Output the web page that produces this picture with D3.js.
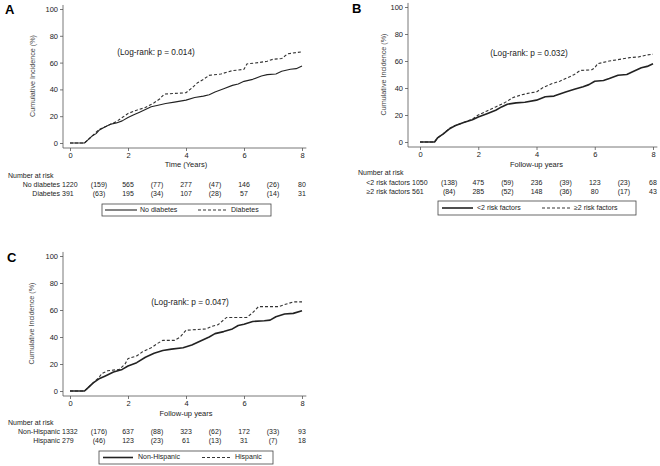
<!DOCTYPE html>
<html lang="en">
<head>
<meta charset="UTF-8">
<title>cumulative incidence</title>
<script src="https://cdn.jsdelivr.net/npm/d3@7"></script>
<style>
  * { margin: 0; padding: 0; }
  body { background: #fff; }
  svg { display: block; font-family: "Liberation Sans", Arial, sans-serif; }
</style>
</head>
<body>
<script>
// ---- data ----
const yearTicks = [0, 2, 4, 6, 8];
const yTicks = [0, 20, 40, 60, 80, 100];
const riskCols = [0, 1, 2, 3, 4, 5, 6, 7, 8];

// panel A
const noDiabetes = [[0,0],[0.5,0],[0.6,2],[0.75,5],[0.9,7],[1,9.5],[1.2,12],[1.4,14],[1.6,15],[1.8,16.5],[2,19],[2.2,21],[2.4,23],[2.6,25],[2.8,27],[3,28],[3.3,29.5],[3.6,30.5],[4,32],[4.3,34],[4.6,35],[4.8,36],[5,38],[5.3,40.5],[5.6,43],[5.8,44],[6,46],[6.3,47.5],[6.6,50],[6.8,51],[7.1,51.5],[7.3,53.5],[7.6,55],[7.8,55.5],[8,57.5]];
const diabetes = [[0,0],[0.5,0],[0.6,2],[0.75,5],[1,10],[1.3,13],[1.6,16],[1.8,19],[2,22],[2.3,24.5],[2.6,26.5],[2.9,30],[3.1,33],[3.25,36.5],[3.6,37],[4,37.5],[4.2,41],[4.4,45],[4.6,47.5],[4.8,50.5],[5.2,51.5],[5.6,54],[6,55],[6.1,59],[6.5,60],[6.8,61],[7,62.5],[7.3,63],[7.5,66.5],[7.8,67.5],[8,68]];
const riskA1 = ["1220","(159)","565","(77)","277","(47)","146","(26)","80"];
const riskA2 = ["391","(63)","195","(34)","107","(28)","57","(14)","31"];

// panel B
const lowRisk = [[0,0],[0.5,0],[0.6,3],[0.8,6],[1,9.5],[1.2,12],[1.5,14.5],[1.8,16.5],[2,18.5],[2.3,21],[2.6,23.5],[2.8,26],[3,28],[3.3,29],[3.6,29.5],[4,31],[4.3,33.5],[4.6,34],[4.8,35.5],[5,37],[5.3,39],[5.6,41],[5.8,42.5],[6,45],[6.3,45.5],[6.5,47],[6.8,49.5],[7.1,50],[7.3,52],[7.6,55],[7.8,56],[8,58]];
const highRisk = [[0,0],[0.5,0],[0.6,3],[0.8,6],[1,10],[1.2,12],[1.5,14.5],[1.8,17],[2,20],[2.3,23],[2.6,26],[2.9,29],[3.2,33],[3.5,35],[3.8,36.5],[4,37],[4.2,40],[4.5,43],[4.8,45],[5,47],[5.3,50],[5.5,53],[5.9,53.5],[6,55],[6.1,58],[6.5,60],[6.8,61],[7.2,62.5],[7.5,63],[7.8,64.5],[8,65]];
const riskB1 = ["1050","(138)","475","(59)","236","(39)","123","(23)","68"];
const riskB2 = ["561","(84)","285","(52)","148","(36)","80","(17)","43"];

// panel C
const nonHispanic = [[0,0],[0.5,0],[0.6,2],[0.8,6],[1,9],[1.2,11],[1.5,14],[1.8,16],[2,18.5],[2.3,21],[2.6,25],[2.9,28],[3.2,30],[3.5,31],[3.9,32],[4.2,34],[4.5,37],[4.8,40],[5,42.5],[5.3,44],[5.6,46],[5.8,48.5],[6,49.5],[6.3,51.5],[6.7,52],[6.9,52.5],[7.1,55],[7.4,57],[7.7,57.5],[8,59.5]];
const hispanic = [[0,0],[0.5,0],[0.6,2],[0.8,6],[1,10],[1.1,13],[1.3,15],[1.7,16],[1.9,20],[2,24],[2.3,26],[2.5,29],[2.8,32],[3,35],[3.2,37.5],[3.6,37.5],[3.8,40],[4,45],[4.7,46],[4.9,48],[5.1,49],[5.4,54.5],[6.1,54.5],[6.3,58],[6.5,62.5],[7.2,62.5],[7.4,64],[7.7,66],[8,66]];
const riskC1 = ["1332","(176)","637","(88)","323","(62)","172","(33)","93"];
const riskC2 = ["279","(46)","123","(23)","61","(13)","31","(7)","18"];

const panels = [
  { letter: "A", lx: 5, ly: 14, axisX: 63, x0: 70, x1: 302, yTop: 9, yBot: 143, xAxisY: 148,
    title: "Time (Years)", titleY: 165, lrX: 156, lrY: 53, pval: "(Log-rank: p = 0.014)",
    ytX: 35, narX: 8, narY: 176, rowY: [185, 194], labRight: 60,
    names: ["No diabetes", "Diabetes"], series: [noDiabetes, diabetes], risk: [riskA1, riskA2],
    solidW: 1.1, legend: { x: 102, y: 204, w: 169, h: 12, s0: 105, s1: 137, t0: 140, d0: 198, d1: 228, t1: 231 } },
  { letter: "B", lx: 352, ly: 13, axisX: 408, x0: 420, x1: 653, yTop: 7, yBot: 142, xAxisY: 147,
    title: "Follow-up years", titleY: 165, lrX: 529, lrY: 54, pval: "(Log-rank: p = 0.032)",
    ytX: 386, narX: 358, narY: 173, rowY: [183, 192], labRight: 410,
    names: ["<2 risk factors", "\u22652 risk factors"], series: [lowRisk, highRisk], risk: [riskB1, riskB2],
    solidW: 1.6, legend: { x: 438, y: 201, w: 198, h: 14, s0: 442, s1: 473, t0: 477, d0: 542, d1: 570, t1: 574 } },
  { letter: "C", lx: 7, ly: 262, axisX: 63, x0: 70, x1: 302, yTop: 256, yBot: 391, xAxisY: 396,
    title: "Follow-up years", titleY: 414, lrX: 190, lrY: 303, pval: "(Log-rank: p = 0.047)",
    ytX: 34, narX: 8, narY: 423, rowY: [432, 441], labRight: 60,
    names: ["Non-Hispanic", "Hispanic"], series: [nonHispanic, hispanic], risk: [riskC1, riskC2],
    solidW: 1.6, legend: { x: 99, y: 451, w: 174, h: 13, s0: 103, s1: 133, t0: 138, d0: 202, d1: 230, t1: 235 } }
];

const ink = "#222";
const fs = 7;
const svg = d3.select("body").append("svg").attr("width", 660).attr("height", 466);

function drawPanel(p) {
  const g = svg.append("g");
  const x = d3.scaleLinear().domain([0, 8]).range([p.x0, p.x1]);
  const y = d3.scaleLinear().domain([0, 100]).range([p.yBot, p.yTop]);

  g.append("text").attr("x", p.lx).attr("y", p.ly).text(p.letter)
    .attr("font-size", 13).attr("font-weight", "bold").attr("fill", "#000");

  // axes
  g.append("line").attr("x1", p.axisX).attr("x2", p.axisX).attr("y1", y(103)).attr("y2", p.xAxisY)
    .attr("stroke", "#555").attr("stroke-width", 0.8);
  g.append("line").attr("x1", p.axisX).attr("x2", x(8.15)).attr("y1", p.xAxisY).attr("y2", p.xAxisY)
    .attr("stroke", "#555").attr("stroke-width", 0.8);

  const yAx = g.append("g").attr("transform", `translate(${p.axisX},0)`)
    .call(d3.axisLeft(y).tickValues(yTicks).tickSize(3).tickPadding(2));
  const xAx = g.append("g").attr("transform", `translate(0,${p.xAxisY})`)
    .call(d3.axisBottom(x).tickValues(yearTicks).tickSize(3).tickPadding(2));
  [yAx, xAx].forEach(a => {
    a.select(".domain").remove();
    a.selectAll("line").attr("stroke", "#555").attr("stroke-width", 0.8);
    a.selectAll("text").attr("font-size", 7.5).attr("fill", ink).attr("font-family", "Liberation Sans, Arial, sans-serif");
  });

  g.append("text").attr("transform", `translate(${p.ytX},${(p.yTop + p.yBot) / 2}) rotate(-90)`)
    .attr("text-anchor", "middle").attr("font-size", 7.2).attr("fill", "#444").text("Cumulative Incidence (%)");

  g.append("text").attr("x", (p.x0 + p.x1) / 2).attr("y", p.titleY).attr("text-anchor", "middle")
    .attr("dominant-baseline", "middle").attr("font-size", 7.5).attr("fill", ink).text(p.title);

  g.append("text").attr("x", p.lrX).attr("y", p.lrY).attr("text-anchor", "middle")
    .attr("dominant-baseline", "middle").attr("font-size", 8.3).attr("fill", ink).text(p.pval);

  // curves (many small steps, drawn as a jagged line)
  const line = d3.line().x(d => x(d[0])).y(d => y(d[1]));
  g.append("path").datum(p.series[1]).attr("d", line).attr("fill", "none")
    .attr("stroke", "#333").attr("stroke-width", 1.1).attr("stroke-dasharray", "3,2");
  g.append("path").datum(p.series[0]).attr("d", line).attr("fill", "none")
    .attr("stroke", "#222").attr("stroke-width", p.solidW).attr("stroke-linejoin", "round");

  // number at risk
  g.append("text").attr("x", p.narX).attr("y", p.narY).attr("dominant-baseline", "middle")
    .attr("font-size", fs).attr("fill", ink).text("Number at risk");
  p.risk.forEach((row, r) => {
    g.append("text").attr("x", p.labRight).attr("y", p.rowY[r]).attr("text-anchor", "end")
      .attr("dominant-baseline", "middle").attr("font-size", fs).attr("fill", ink).text(p.names[r]);
    g.selectAll(null).data(row).enter().append("text")
      .attr("x", (d, i) => i === 0 ? p.labRight + 2 : x(riskCols[i]))
      .attr("y", p.rowY[r]).attr("text-anchor", (d, i) => i === 0 ? "start" : "middle")
      .attr("dominant-baseline", "middle")
      .attr("font-size", fs).attr("fill", ink).text(d => d);
  });

  // legend
  const L = p.legend, my = L.y + L.h / 2;
  g.append("rect").attr("x", L.x).attr("y", L.y).attr("width", L.w).attr("height", L.h)
    .attr("fill", "#fff").attr("stroke", "#444").attr("stroke-width", 0.8);
  g.append("line").attr("x1", L.s0).attr("x2", L.s1).attr("y1", my).attr("y2", my)
    .attr("stroke", "#222").attr("stroke-width", p.solidW);
  g.append("line").attr("x1", L.d0).attr("x2", L.d1).attr("y1", my).attr("y2", my)
    .attr("stroke", "#333").attr("stroke-width", 1.1).attr("stroke-dasharray", "3,2");
  g.append("text").attr("x", L.t0).attr("y", my).attr("dominant-baseline", "middle")
    .attr("font-size", fs).attr("fill", ink).text(p.names[0]);
  g.append("text").attr("x", L.t1).attr("y", my).attr("dominant-baseline", "middle")
    .attr("font-size", fs).attr("fill", ink).text(p.names[1]);
}

panels.forEach(drawPanel);
</script>
</body>
</html>
